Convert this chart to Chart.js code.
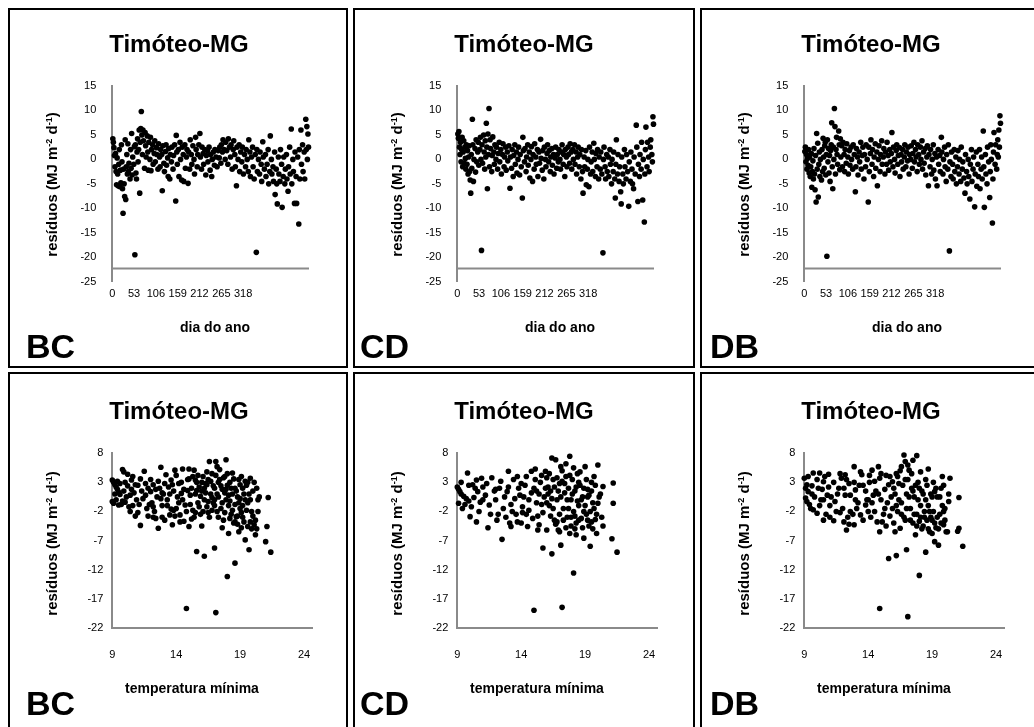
<!DOCTYPE html>
<html>
<head>
<meta charset="utf-8">
<script src="https://cdn.jsdelivr.net/npm/chart.js@4.4.1/dist/chart.umd.min.js"></script>
<style>
  body { margin: 0; width: 1034px; height: 727px; overflow: hidden; background: #fff; position: relative;
         font-family: "Liberation Sans", Arial, sans-serif; }
  .painel { position: absolute; border: 2px solid #000; box-sizing: border-box; }
  canvas { position: absolute; }
  .txt { position: absolute; font-weight: bold; color: #000; white-space: nowrap; }
  .titulo { font-size: 24px; line-height: 24px; width: 300px; text-align: center; }
  .ytit { font-size: 15px; line-height: 15px; width: 220px; text-align: center; transform: rotate(-90deg); }
  .xtit { font-size: 14px; line-height: 14px; width: 200px; text-align: center; }
  .sigla { font-size: 34px; line-height: 34px; }
  sup { font-size: 9px; line-height: 0; vertical-align: 5px; }
</style>
</head>
<body>
<div class="painel" style="left:8px;top:8px;width:340px;height:360px"></div>
<div class="painel" style="left:353px;top:8px;width:342px;height:360px"></div>
<div class="painel" style="left:700px;top:8px;width:342px;height:360px"></div>
<div class="painel" style="left:8px;top:372px;width:340px;height:360px"></div>
<div class="painel" style="left:353px;top:372px;width:342px;height:360px"></div>
<div class="painel" style="left:700px;top:372px;width:342px;height:360px"></div>

<canvas id="c1" width="336" height="356" style="left:10px;top:10px"></canvas>
<canvas id="c2" width="336" height="356" style="left:355px;top:10px"></canvas>
<canvas id="c3" width="336" height="356" style="left:702px;top:10px"></canvas>
<canvas id="c4" width="336" height="353" style="left:10px;top:374px"></canvas>
<canvas id="c5" width="336" height="353" style="left:355px;top:374px"></canvas>
<canvas id="c6" width="336" height="353" style="left:702px;top:374px"></canvas>

<div class="txt titulo" style="left:29px;top:32px">Timóteo-MG</div>
<div class="txt titulo" style="left:374px;top:32px">Timóteo-MG</div>
<div class="txt titulo" style="left:721px;top:32px">Timóteo-MG</div>
<div class="txt titulo" style="left:29px;top:399px">Timóteo-MG</div>
<div class="txt titulo" style="left:374px;top:399px">Timóteo-MG</div>
<div class="txt titulo" style="left:721px;top:399px">Timóteo-MG</div>

<div class="txt ytit" style="left:-59px;top:177px">resíduos (MJ m<sup>-2</sup> d<sup>-1</sup>)</div>
<div class="txt ytit" style="left:286px;top:177px">resíduos (MJ m<sup>-2</sup> d<sup>-1</sup>)</div>
<div class="txt ytit" style="left:633px;top:177px">resíduos (MJ m<sup>-2</sup> d<sup>-1</sup>)</div>
<div class="txt ytit" style="left:-59px;top:536px">resíduos (MJ m<sup>-2</sup> d<sup>-1</sup>)</div>
<div class="txt ytit" style="left:286px;top:536px">resíduos (MJ m<sup>-2</sup> d<sup>-1</sup>)</div>
<div class="txt ytit" style="left:633px;top:536px">resíduos (MJ m<sup>-2</sup> d<sup>-1</sup>)</div>

<div class="txt xtit" style="left:115px;top:320px">dia do ano</div>
<div class="txt xtit" style="left:460px;top:320px">dia do ano</div>
<div class="txt xtit" style="left:807px;top:320px">dia do ano</div>
<div class="txt xtit" style="left:92px;top:681px">temperatura mínima</div>
<div class="txt xtit" style="left:437px;top:681px">temperatura mínima</div>
<div class="txt xtit" style="left:784px;top:681px">temperatura mínima</div>

<div class="txt sigla" style="left:26px;top:329px">BC</div>
<div class="txt sigla" style="left:360px;top:329px">CD</div>
<div class="txt sigla" style="left:710px;top:329px">DB</div>
<div class="txt sigla" style="left:26px;top:686px">BC</div>
<div class="txt sigla" style="left:360px;top:686px">CD</div>
<div class="txt sigla" style="left:710px;top:686px">DB</div>

<script>
// rotulos dos eixos
const diaTicks = [0, 53, 106, 159, 212, 265, 318];
const residuoTicksDia = [15, 10, 5, 0, -5, -10, -15, -20, -25];
const tminTicks = [9, 14, 19, 24];
const residuoTicksTmin = [8, 3, -2, -7, -12, -17, -22];

// residuos x dia do ano
const diaBC = [[1,4.2],[2,3.5],[3,2.4],[4,0.8],[5,-1.5],[6,1.2],[7,-2.5],[8,-5.2],[9,0.3],[10,-3.0],
  [11,-5.4],[12,-1.0],[13,2.0],[14,-5.6],[15,-2.2],[16,-4.8],[17,3.0],[18,-0.5],[19,-6.0],[20,-11.0],
  [21,-2.0],[22,-5.0],[23,-7.6],[24,4.0],[25,-8.2],[26,-1.5],[27,1.0],[28,-3.0],[29,3.2],[30,-2.5],
  [31,-0.8],[33,-4.0],[34,2.0],[35,-1.8],[36,5.3],[37,-3.2],[38,0.5],[40,-1.0],[41,2.6],[42,-19.5],
  [43,3.0],[44,-2.8],[45,-4.0],[46,1.5],[47,4.2],[48,-0.5],[49,2.0],[50,6.0],[51,-6.9],[52,3.5],
  [53,6.3],[54,9.8],[55,5.0],[56,1.0],[57,6.0],[58,3.8],[60,-1.8],[61,5.5],[62,2.8],[63,0.5],
  [65,4.8],[66,1.5],[67,-2.2],[68,3.5],[70,0.0],[71,4.5],[72,-2.3],[73,2.0],[75,3.0],[76,-1.0],
  [78,1.2],[79,3.8],[80,-0.5],[82,2.4],[83,1.0],[85,-2.0],[86,3.2],[88,0.5],[89,-1.5],[90,2.0],
  [92,1.0],[93,-6.4],[94,2.8],[96,-0.8],[97,-2.5],[99,1.6],[100,3.0],[101,-1.2],[103,0.3],[104,-3.5],
  [105,2.2],[107,-4.0],[108,1.0],[110,-0.5],[111,2.5],[113,-2.0],[114,0.8],[116,3.0],[118,-8.5],[119,4.9],
  [120,1.5],[121,-1.0],[123,2.0],[124,-3.5],[126,3.5],[127,0.0],[129,-4.2],[130,2.5],[132,1.0],[133,-4.5],
  [135,3.0],[136,-1.8],[138,0.5],[139,2.0],[141,-4.9],[142,1.5],[144,-2.0],[145,4.0],[147,1.0],[148,-1.0],
  [150,2.8],[152,0.0],[153,-3.0],[155,4.5],[156,2.0],[158,-1.5],[159,1.0],[161,3.0],[163,5.3],[164,0.5],
  [166,-2.0],[167,2.5],[169,1.2],[170,-1.0],[172,2.0],[174,-3.2],[175,0.8],[177,1.8],[178,-0.5],[180,2.5],
  [182,-2.2],[183,1.0],[185,-3.5],[186,0.0],[188,1.5],[190,-1.2],[191,2.0],[193,0.5],[195,-1.5],[197,1.8],
  [199,0.3],[200,2.5],[202,-0.8],[203,3.0],[205,1.5],[206,4.0],[208,2.0],[210,0.0],[211,3.5],[213,1.8],
  [215,-1.0],[216,4.2],[218,2.5],[220,0.5],[221,3.0],[223,-2.0],[225,2.0],[226,3.8],[228,1.0],[229,-1.5],
  [231,-5.4],[232,2.5],[234,0.0],[236,3.0],[237,-2.5],[239,1.5],[241,-0.5],[242,2.5],[244,-3.0],[246,1.0],
  [248,-1.5],[249,2.0],[251,0.0],[253,-2.5],[254,4.0],[256,1.5],[257,-3.5],[259,0.5],[261,2.5],[262,-1.5],
  [264,-4.0],[266,1.0],[268,-19.0],[269,2.0],[270,-2.5],[272,0.0],[274,-3.0],[275,1.5],[277,-1.0],[278,-4.5],
  [280,3.6],[281,0.5],[283,-2.0],[285,1.0],[286,-3.5],[288,-1.0],[290,2.0],[291,-5.0],[293,-2.5],[294,4.8],
  [296,0.0],[297,-3.0],[299,-1.5],[300,-4.5],[302,1.5],[303,-7.2],[305,-2.0],[306,-5.0],[307,-9.1],[309,0.5],
  [310,-3.0],[312,-4.5],[313,2.0],[315,-1.0],[316,-9.8],[318,-3.5],[319,0.5],[321,-5.0],[322,-2.0],[324,1.0],
  [325,-4.0],[327,-6.5],[328,-1.5],[330,2.5],[331,-3.0],[333,6.2],[334,-5.0],[336,0.0],[337,-2.5],[339,-9.0],
  [340,1.5],[342,-3.5],[343,-9.0],[345,0.5],[347,-13.2],[348,2.0],[349,-4.0],[351,6.0],[352,-1.0],[354,3.0],
  [355,-2.5],[357,1.5],[358,-4.0],[360,8.2],[361,2.0],[362,6.7],[363,0.0],[364,5.2],[365,2.5]];

const diaCD = [[1,5.2],[2,4.3],[3,5.7],[4,2.5],[5,1.0],[6,3.5],[7,-0.5],[8,2.0],[9,4.5],[10,-1.5],
  [11,1.5],[12,3.8],[13,-0.8],[14,2.5],[15,0.2],[16,-2.0],[17,3.0],[18,-1.0],[19,1.8],[20,-3.0],
  [21,0.5],[22,2.8],[23,-2.5],[24,-4.2],[25,-6.9],[26,1.0],[27,-1.8],[28,8.2],[29,3.0],[30,-4.5],
  [31,0.0],[33,2.2],[34,-2.6],[35,4.0],[36,-0.5],[38,1.5],[39,3.5],[40,-1.2],[42,2.0],[43,4.5],
  [44,0.0],[45,-18.6],[46,3.0],[47,-0.8],[49,5.0],[50,1.5],[51,-2.0],[52,3.8],[53,0.5],[54,7.4],
  [55,2.5],[56,-6.0],[57,5.2],[58,1.0],[59,10.4],[60,-1.5],[61,4.0],[62,2.2],[64,-2.5],[65,0.8],
  [66,4.6],[68,1.5],[69,-1.0],[70,3.0],[72,0.0],[73,2.5],[75,-2.0],[76,1.2],[78,3.5],[79,-0.5],
  [81,2.0],[82,-3.0],[84,1.0],[85,3.2],[87,-1.5],[88,0.5],[90,2.5],[91,-2.2],[93,1.5],[94,-0.3],
  [96,2.8],[98,-5.9],[99,0.5],[101,-1.8],[102,2.0],[104,-3.5],[105,0.8],[107,3.0],[108,-1.0],[110,1.5],
  [111,-2.8],[113,0.0],[114,2.5],[116,-3.2],[117,1.0],[119,-1.5],[121,-7.9],[122,4.5],[123,1.8],[125,-0.5],
  [126,2.2],[128,-2.5],[129,0.5],[131,3.0],[132,-1.2],[134,1.5],[135,-3.8],[137,0.0],[138,2.6],[140,-4.5],
  [141,1.0],[143,-2.0],[144,3.2],[146,0.5],[147,-1.0],[149,2.0],[150,-3.5],[152,1.5],[153,-0.8],[155,4.1],
  [156,0.2],[158,-2.2],[159,1.8],[161,-4.0],[162,2.5],[164,0.0],[165,-1.5],[167,1.2],[168,3.0],[170,-0.5],
  [171,1.8],[173,-2.5],[174,0.5],[176,2.2],[177,-1.2],[179,1.0],[180,-3.0],[182,0.3],[183,2.5],[185,-1.8],
  [186,1.0],[188,-0.5],[189,2.0],[191,0.0],[192,-2.0],[194,1.5],[195,3.0],[197,-1.0],[198,1.0],[200,-3.5],
  [201,2.0],[203,0.5],[204,-1.5],[206,2.5],[207,1.0],[209,-0.8],[210,3.2],[212,1.5],[213,-2.0],[215,2.0],
  [216,0.0],[218,3.0],[219,-1.0],[221,1.5],[222,-3.0],[224,0.5],[225,2.5],[227,-1.5],[228,1.0],[230,-4.0],
  [231,2.0],[233,-2.5],[234,-6.9],[236,0.5],[237,-1.5],[239,1.8],[240,-5.2],[242,-2.0],[243,0.0],[245,-5.6],
  [246,2.5],[248,-3.0],[249,-0.5],[251,1.5],[252,-2.5],[254,3.3],[255,0.0],[257,-3.5],[258,1.2],[260,-1.5],
  [261,2.0],[263,-4.0],[264,0.5],[266,-2.0],[267,1.5],[269,-3.0],[271,-19.1],[272,0.0],[273,2.5],[275,-1.5],
  [276,-4.0],[278,1.0],[279,-2.5],[281,0.5],[282,-3.5],[284,2.0],[285,-1.0],[287,-5.0],[288,0.0],[290,-2.5],
  [291,1.5],[293,-4.0],[294,-7.9],[295,-1.0],[296,4.0],[298,-3.0],[299,1.0],[301,-4.5],[302,-1.5],[304,-6.6],
  [305,-9.1],[306,0.5],[308,-3.0],[309,-5.0],[311,2.0],[312,-1.5],[314,-4.0],[315,1.0],[317,-2.5],[319,-9.6],
  [320,-0.5],[322,-4.5],[323,1.5],[325,-2.0],[326,-5.0],[328,-6.0],[329,0.5],[331,-3.0],[333,7.0],[334,2.5],
  [336,-8.6],[337,-1.0],[339,-3.5],[340,1.0],[342,-2.0],[343,3.5],[345,-8.3],[346,0.0],[348,-12.8],[349,-3.0],
  [350,2.0],[351,6.6],[353,-1.5],[354,3.5],[356,0.5],[357,-2.5],[359,2.5],[360,4.0],[362,1.0],[363,-0.5],
  [364,8.7],[365,7.2]];

const diaDB = [[1,1.6],[2,2.5],[3,-0.5],[4,1.0],[5,-2.0],[6,0.2],[7,-1.2],[8,2.0],[9,-2.8],[10,0.5],
  [11,-3.5],[12,-1.5],[13,1.2],[14,-5.7],[15,-2.5],[16,-0.3],[17,-4.0],[18,2.2],[19,-3.0],[20,-6.2],
  [21,0.8],[22,-8.7],[23,5.3],[24,-2.0],[25,3.3],[26,-7.7],[27,-1.0],[28,1.5],[29,-3.5],[30,0.0],
  [32,-4.2],[33,2.0],[34,-2.5],[35,4.3],[36,0.5],[37,-1.8],[38,2.8],[39,3.5],[40,-3.2],[41,1.0],
  [42,-19.8],[43,4.0],[44,-0.5],[45,2.2],[46,-2.8],[47,0.8],[48,-4.5],[49,1.8],[50,3.0],[51,7.5],
  [52,-1.5],[53,-6.0],[54,2.5],[55,0.0],[56,10.4],[57,6.7],[58,-3.0],[59,2.0],[60,4.5],[61,1.0],
  [62,-1.0],[64,5.8],[65,3.0],[66,-2.1],[67,4.2],[68,0.5],[70,2.8],[71,-1.5],[72,3.5],[74,1.0],
  [75,-2.5],[76,2.0],[78,-0.8],[79,3.2],[81,0.5],[82,-3.0],[84,1.8],[85,-1.2],[87,2.5],[88,0.0],
  [90,-2.0],[91,3.0],[93,1.0],[95,-6.6],[96,-1.5],[97,2.2],[99,0.5],[100,-3.2],[102,1.5],[103,-0.5],
  [105,3.5],[106,-2.0],[108,0.8],[109,2.5],[111,-4.0],[112,1.0],[114,-1.5],[115,3.0],[117,0.0],[119,-8.7],
  [120,2.5],[121,-2.5],[123,1.2],[124,4.0],[126,-1.0],[127,2.0],[129,-3.5],[130,0.5],[132,3.2],[133,-1.8],
  [135,1.5],[136,-5.4],[138,0.0],[139,2.8],[141,-2.5],[142,1.0],[144,3.8],[145,-1.0],[147,0.5],[148,2.2],
  [150,-3.0],[151,1.5],[153,-1.0],[154,3.5],[156,0.8],[157,-2.2],[159,2.0],[160,-0.5],[162,1.2],[163,5.5],
  [165,-1.5],[166,2.5],[168,0.0],[169,-2.8],[171,1.8],[172,3.0],[174,-1.0],[175,0.8],[177,2.4],[178,-3.5],
  [180,1.0],[181,-0.5],[183,2.0],[184,-2.0],[186,0.5],[187,3.0],[189,-1.5],[190,1.5],[192,-0.3],[193,2.5],
  [195,-3.0],[196,1.0],[198,0.0],[199,2.8],[201,-1.8],[202,1.2],[204,3.5],[205,-0.5],[207,2.0],[208,0.5],
  [210,-2.5],[211,3.0],[213,1.0],[214,-1.0],[216,2.5],[217,0.0],[219,3.8],[220,-2.0],[222,1.5],[223,-0.8],
  [225,2.2],[226,-3.2],[228,0.5],[229,2.8],[231,-5.4],[232,1.0],[234,-1.5],[235,2.0],[237,-3.0],[238,0.0],
  [240,3.0],[241,-2.2],[243,1.2],[244,-4.0],[246,0.5],[247,-5.4],[249,2.0],[250,-1.0],[252,0.8],[253,-2.5],
  [255,4.5],[256,1.5],[258,-3.0],[259,0.0],[261,2.5],[262,-1.5],[264,-4.5],[265,1.0],[267,-2.0],[268,3.0],
  [270,-18.7],[271,-0.5],[273,-3.5],[274,1.5],[276,-1.0],[277,-4.0],[279,2.0],[280,-2.5],[282,0.5],[283,-5.0],
  [285,-1.5],[286,1.8],[288,-3.0],[289,0.0],[291,-4.5],[292,2.5],[294,-2.0],[295,-0.5],[297,-3.8],[299,-6.9],
  [300,1.0],[302,-2.5],[303,-5.0],[305,0.0],[306,-3.5],[308,-8.1],[309,-1.0],[311,2.0],[312,-4.5],[314,-2.0],
  [315,0.5],[317,-9.7],[318,-3.0],[320,1.5],[321,-5.5],[323,-1.0],[324,-3.5],[326,2.0],[327,-6.0],[329,-2.0],
  [330,0.5],[331,-4.0],[333,5.8],[334,-1.5],[335,-9.8],[337,1.0],[338,-3.0],[340,-5.0],[341,2.5],[343,-0.5],
  [345,-7.8],[346,-2.5],[347,3.0],[348,0.0],[350,-13.0],[351,-4.0],[352,1.5],[353,5.5],[355,-1.0],[356,3.0],
  [358,-2.0],[359,1.0],[360,4.0],[361,0.5],[362,6.0],[363,2.5],[364,8.9],[365,7.4]];

// residuos x temperatura minima
const tminBC = [[9.0,3.4],[9.1,3.0],[9.2,2.6],[9.3,2.2],[9.4,1.8],[9.5,1.3],[9.6,0.9],[9.1,-0.6],[9.3,0.0],[9.0,-0.3],
  [9.5,-0.9],[9.8,-0.2],[9.8,5.2],[9.9,4.8],[10.0,3.0],[10.1,0.5],[10.2,2.4],[10.3,-1.2],[10.4,-2.0],[10.5,3.4],
  [10.6,4.0],[10.7,1.2],[10.8,-2.8],[10.9,0.0],[11.0,2.5],[11.1,-0.8],[11.2,-4.4],[11.3,1.5],[11.5,4.9],[11.6,0.8],
  [11.7,-1.5],[11.8,2.0],[12.0,1.4],[12.1,-0.5],[12.2,2.6],[12.3,-2.0],[12.4,-3.2],[12.5,0.5],[12.6,-4.9],[12.7,2.0],
  [12.8,5.6],[12.9,-1.0],[13.0,1.0],[13.1,-3.5],[13.2,4.3],[13.3,0.0],[13.4,2.2],[13.5,-2.6],[13.6,3.4],[13.7,-4.3],
  [13.8,1.5],[13.9,5.1],[14.0,-1.5],[14.1,0.5],[14.2,2.8],[14.3,-2.6],[14.4,1.1],[14.5,5.3],[14.6,-3.7],[14.7,-0.9],
  [14.8,-18.7],[14.9,3.5],[15.0,5.3],[15.0,-4.6],[15.1,0.8],[15.2,2.0],[15.3,-1.8],[15.4,5.1],[15.5,1.0],[15.6,-8.9],
  [15.6,3.0],[15.7,-0.5],[15.8,2.2],[15.9,-2.5],[16.0,1.5],[16.1,4.0],[16.2,-9.7],[16.2,0.0],[16.3,2.8],[16.4,-1.2],
  [16.5,3.5],[16.6,6.6],[16.6,-3.0],[16.7,1.0],[16.8,4.5],[16.9,-0.5],[17.0,-8.3],[17.0,2.0],[17.1,-19.4],[17.1,6.6],
  [17.2,5.7],[17.2,-2.0],[17.3,0.5],[17.4,3.5],[17.5,-1.5],[17.6,1.8],[17.7,-3.5],[17.8,4.0],[17.9,6.9],[17.9,0.0],
  [18.0,-13.2],[18.0,2.5],[18.1,-5.8],[18.1,-1.0],[18.2,3.0],[18.3,-2.5],[18.4,1.0],[18.5,-4.0],[18.6,-10.9],[18.6,2.0],
  [18.7,-2.9],[18.8,0.5],[18.9,-5.5],[18.9,3.5],[19.0,-1.5],[19.1,4.0],[19.2,-3.0],[19.3,1.0],[19.4,-6.9],[19.5,2.5],
  [19.6,-0.5],[19.7,-8.6],[19.8,3.7],[19.9,-2.0],[20.0,1.5],[20.1,-4.3],[20.2,-6.0],[20.3,2.0],[20.4,-2.0],[20.5,0.5],
  [21.2,0.4],[21.1,-4.6],[21.0,-7.2],[21.4,-9.0],[15.2,-3.3],[15.7,4.2],[16.0,-4.5],[16.4,2.6],[16.8,-1.8],[17.3,3.0],
  [17.6,-4.8],[17.8,1.2],[18.2,-3.2],[18.4,4.6],[18.8,-4.2],[19.0,2.6],[19.2,-1.0],[19.4,0.0],[19.6,3.0],[19.8,-3.8],
  [16.5,-0.3],[15.5,-2.2],[14.5,0.0],[13.8,-1.8],[12.8,0.2],[11.9,-0.8],[10.5,1.8],
  [9.2,1.0],[9.4,3.2],[9.6,2.8],[9.7,-0.8],[9.9,1.5],[10.0,-0.4],[10.2,4.4],[10.4,0.8],[10.6,-1.0],[10.8,2.6],
  [11.0,-2.2],[11.2,3.6],[11.4,0.2],[11.6,2.8],[11.8,-2.8],[12.0,3.5],[12.2,-1.2],[12.4,1.8],[12.6,3.2],[12.9,-3.0],
  [13.1,2.8],[13.3,-1.0],[13.5,1.0],[13.7,2.6],[13.9,-2.8],[14.0,4.2],[14.2,-0.5],[14.4,3.0],[14.6,1.8],[14.8,-2.0],
  [15.0,3.6],[15.1,-0.8],[15.3,4.0],[15.4,-3.0],[15.6,1.6],[15.8,-1.2],[15.9,0.6],[16.0,3.0],[16.1,-2.0],[16.3,1.2],
  [16.4,4.8],[16.5,-2.2],[16.7,3.2],[16.8,0.4],[16.9,2.4],[17.0,-1.0],[17.1,4.2],[17.2,1.0],[17.3,-3.0],[17.4,5.2],
  [17.5,2.4],[17.6,-0.5],[17.7,3.8],[17.8,-2.2],[17.9,1.8],[18.0,4.5],[18.1,0.8],[18.2,-0.2],[18.3,2.0],[18.4,-1.8],
  [18.5,3.6],[18.6,-0.8],[18.7,1.5],[18.8,-2.8],[18.9,-0.5],[19.0,0.2],[19.1,-2.2],[19.2,2.0],[19.3,-3.8],[19.4,3.2],
  [19.5,-1.8],[19.6,-4.6],[19.7,1.0],[19.8,0.0],[19.9,-5.0],[20.0,-2.8],[20.1,3.0],[20.2,-3.5],[20.3,-5.0],[20.4,0.0],
  [17.0,0.0],[16.2,2.0],[15.5,3.4],[14.9,1.6],[14.3,-3.8],[13.6,-1.6],[12.9,1.2],[12.2,-3.0],[18.6,-3.8],[19.1,-4.8]];

const tminCD = [[9.0,2.2],[9.1,1.8],[9.2,1.4],[9.3,1.0],[9.5,0.6],[9.7,0.2],[9.9,-0.2],[9.1,-0.6],[9.4,-1.5],[9.8,4.6],
  [10.2,2.6],[10.5,3.4],[10.9,3.7],[10.6,1.4],[11.2,0.8],[11.5,-0.9],[10.0,-2.9],[10.5,-3.8],[11.4,-4.8],[12.5,-6.8],
  [11.7,3.8],[12.0,0.0],[12.3,2.0],[12.6,-1.5],[12.9,1.4],[13.0,4.9],[13.3,-2.0],[13.7,4.0],[13.7,-3.8],[13.2,-4.6],
  [13.9,0.8],[14.1,-1.2],[14.3,2.5],[14.5,-4.6],[14.6,0.0],[14.8,4.9],[15.0,-19.0],[15.1,5.3],[15.2,1.5],[15.3,-2.8],
  [15.4,-4.3],[15.5,3.0],[15.7,-8.3],[15.8,0.5],[15.9,4.9],[16.0,-5.2],[16.1,2.2],[16.2,-1.0],[16.4,-9.3],[16.4,7.2],
  [16.5,3.5],[16.6,-3.5],[16.7,6.9],[16.8,0.0],[16.9,-5.2],[17.0,2.8],[17.1,-7.8],[17.1,5.7],[17.2,-18.5],[17.3,-1.5],
  [17.4,1.2],[17.5,4.0],[17.6,-3.0],[17.7,2.0],[17.8,7.5],[17.8,-5.8],[17.9,0.0],[18.0,3.5],[18.1,-12.6],[18.1,-2.0],
  [18.2,1.5],[18.3,-4.0],[18.4,4.5],[18.5,-1.0],[18.6,2.5],[18.7,-3.2],[18.8,0.5],[18.9,-6.6],[19.0,5.7],[19.1,-2.5],
  [19.2,1.8],[19.3,-4.5],[19.4,-8.0],[19.5,3.0],[19.6,-0.5],[19.7,4.0],[19.8,-3.4],[19.9,-5.8],[20.0,6.0],[20.0,-0.6],
  [20.2,1.0],[20.4,2.3],[21.2,2.9],[21.2,-0.6],[21.1,-6.7],[21.5,-9.0],[14.0,2.8],[14.4,-2.5],[15.0,2.0],[15.6,-0.8],
  [16.0,3.8],[16.3,-2.8],[16.8,-3.8],[17.2,3.2],[17.5,-4.8],[17.9,-3.0],[18.2,-5.0],[18.5,3.0],[18.9,-2.0],[19.2,0.5],
  [19.5,-3.8],[16.1,1.0],[13.5,0.2],[12.2,-2.5],[11.0,2.2],[10.3,0.4],
  [9.3,3.0],[9.6,-0.8],[9.9,2.5],[10.1,-1.2],[10.4,2.0],[10.7,-2.0],[11.0,0.0],[11.3,2.8],[11.6,-2.5],[11.9,1.5],
  [12.1,-3.5],[12.4,3.2],[12.7,0.5],[12.8,-3.0],[13.0,2.2],[13.2,-0.8],[13.4,3.5],[13.6,-2.5],[13.8,2.0],[14.0,-4.0],
  [14.2,0.5],[14.4,4.0],[14.6,-1.8],[14.8,1.2],[14.9,-3.2],[15.1,3.5],[15.2,-0.5],[15.4,1.0],[15.6,4.2],[15.7,-2.2],
  [15.9,2.0],[16.0,-0.5],[16.2,4.5],[16.3,1.5],[16.5,-1.5],[16.6,2.2],[16.7,-4.2],[16.8,3.8],[16.9,1.5],[17.0,-2.5],
  [17.1,0.5],[17.2,5.0],[17.3,-3.5],[17.4,2.8],[17.5,6.2],[17.6,0.0],[17.7,-1.5],[17.8,4.2],[17.9,-4.5],[18.0,1.0],
  [18.1,5.5],[18.2,-2.8],[18.3,2.2],[18.4,-0.2],[18.5,-3.5],[18.6,4.8],[18.7,0.0],[18.8,-4.8],[18.9,2.0],[19.0,-1.0],
  [19.1,3.5],[19.2,-3.5],[19.3,0.8],[19.4,-2.0],[19.5,1.5],[19.6,-5.0],[19.7,-1.5],[19.8,2.5],[19.9,-2.5],[20.1,0.5],
  [20.3,-3.0],[20.4,-4.5],[16.4,0.2],[17.0,-5.5],[18.3,-6.0],[15.3,-5.2],[14.1,-2.2],[13.1,-4.0],[12.0,1.8],[10.8,-0.4]];

const tminDB = [[9.0,3.7],[9.2,2.6],[9.3,1.4],[9.1,0.3],[9.2,-0.3],[9.5,-1.5],[9.7,-1.7],[10.0,-2.3],[10.5,-3.5],[11.3,-3.6],
  [9.7,4.6],[10.2,4.6],[10.9,4.4],[10.5,3.1],[10.1,2.0],[10.8,0.8],[11.4,-0.3],[11.7,2.0],[11.9,3.7],[12.2,4.3],
  [12.9,5.7],[13.5,4.3],[12.3,-5.2],[12.9,-4.3],[12.1,-3.8],[12.6,-2.0],[13.4,-2.6],[13.8,-0.9],[12.2,0.8],[13.0,1.7],
  [14.3,5.1],[14.8,5.7],[14.9,3.7],[15.1,-3.8],[14.9,-5.5],[14.5,-2.0],[14.4,0.8],[15.6,2.6],[15.6,-10.1],[14.9,-18.7],
  [15.9,3.1],[16.8,7.7],[16.9,6.6],[16.6,5.7],[17.8,7.6],[17.2,5.1],[16.2,-9.6],[17.0,-8.6],[16.1,-5.5],[16.5,-4.9],
  [17.1,-20.1],[18.0,-13.0],[17.7,-6.0],[18.0,-3.7],[18.5,-9.0],[18.7,5.3],[19.8,4.0],[19.2,1.4],[19.9,-2.0],[19.9,-4.3],
  [19.2,-7.2],[19.5,-7.8],[19.0,-5.8],[20.3,-0.3],[20.4,3.7],[21.1,0.4],[21.1,-4.9],[21.0,-5.4],[21.4,-8.0],[13.6,2.5],
  [13.9,0.0],[14.1,3.0],[14.2,-3.0],[14.6,1.5],[15.0,0.0],[15.3,-1.5],[15.4,4.2],[15.7,-2.8],[15.8,0.5],[16.0,2.0],
  [16.2,-1.0],[16.3,4.0],[16.4,0.0],[16.6,-2.5],[16.7,2.5],[16.9,-3.5],[17.0,1.0],[17.1,3.5],[17.3,-1.5],[17.4,2.0],
  [17.5,-4.0],[17.6,0.5],[17.8,-2.5],[17.9,3.0],[18.1,-1.0],[18.2,1.5],[18.3,-4.5],[18.4,-3.0],[18.5,0.0],[18.6,2.5],
  [18.7,-5.0],[18.8,-2.0],[18.9,1.0],[19.0,-3.5],[19.1,3.0],[19.3,-4.8],[19.4,0.5],[19.6,-2.5],[19.7,2.0],[20.0,-1.5],
  [20.1,-5.5],[11.0,-1.0],[12.5,2.8],[13.2,-0.5],[10.3,0.0],[9.6,1.0],[11.8,-2.2],
  [9.1,2.0],[9.3,4.0],[9.4,-0.8],[9.6,2.4],[9.8,0.5],[10.0,3.5],[10.2,-1.0],[10.4,1.8],[10.6,4.0],[10.7,-2.5],
  [10.9,2.2],[11.1,0.5],[11.3,3.0],[11.5,-2.0],[11.6,1.0],[11.8,4.5],[12.0,-1.5],[12.1,2.0],[12.3,3.5],[12.4,-3.0],
  [12.6,0.8],[12.8,-2.5],[12.9,3.0],[13.1,-1.5],[13.3,2.5],[13.4,4.8],[13.6,-3.5],[13.8,1.5],[14.0,-2.0],[14.1,4.2],
  [14.3,-0.5],[14.5,3.2],[14.7,-3.8],[14.8,1.0],[15.0,4.5],[15.2,-2.5],[15.3,1.8],[15.5,-0.5],[15.7,4.0],[15.9,-1.5],
  [16.0,-4.0],[16.1,1.0],[16.3,-2.0],[16.4,2.8],[16.5,5.0],[16.6,-0.5],[16.8,-3.0],[16.9,3.5],[17.0,-1.5],[17.2,0.5],
  [17.3,-3.5],[17.4,4.5],[17.5,1.5],[17.6,-2.5],[17.7,2.5],[17.8,-4.5],[17.9,0.0],[18.0,2.0],[18.1,-3.0],[18.2,-5.0],
  [18.3,1.0],[18.4,-2.0],[18.5,3.5],[18.6,-3.5],[18.7,-1.0],[18.8,-5.5],[18.9,-3.0],[19.0,0.5],[19.1,-2.0],[19.2,-4.0],
  [19.3,2.0],[19.4,-3.0],[19.5,-5.0],[19.6,0.5],[19.7,-4.0],[19.8,-1.0],[19.9,2.5],[20.0,-3.5],[20.2,-5.5],[20.3,1.0],
  [16.2,4.5],[17.1,6.0],[17.5,6.8],[18.1,4.8],[15.4,-4.5],[14.0,0.0],[12.5,-4.2],[11.0,-3.0],[13.0,0.0],[10.5,0.0]];

const corEixo = '#8a8a8a';
const eixoCruzaDia = -22.3;   // onde a linha horizontal corta o eixo y nos graficos por dia

Chart.defaults.font.family = '"Liberation Sans", Arial, sans-serif';
Chart.defaults.font.size = 11;
Chart.defaults.color = '#000';

const comuns = {
  responsive: false,
  animation: false,
  events: [],
  plugins: { legend: { display: false }, tooltip: { enabled: false } }
};

function fixarTicks(lista) {
  return axis => { axis.ticks = lista.map(v => ({ value: v })); };
}

function pontos(pares) {
  return pares.map(p => ({ x: p[0], y: p[1] }));
}

function graficoDia(id, pares) {
  new Chart(document.getElementById(id), {
    type: 'scatter',
    data: {
      datasets: [
        { data: pontos(pares), xAxisID: 'x', yAxisID: 'y', backgroundColor: '#000', borderWidth: 0, pointRadius: 2.8, clip: false },
        { type: 'line', data: [{ x: 0, y: eixoCruzaDia }, { x: 366, y: eixoCruzaDia }], xAxisID: 'x', yAxisID: 'y',
          borderColor: corEixo, borderWidth: 2, pointRadius: 0, clip: false }
      ]
    },
    options: {
      ...comuns,
      layout: { padding: { top: 76, right: 37, bottom: 0, left: 0 } },
      scales: {
        x: { type: 'linear', display: false, min: 0, max: 366 },
        xl: { type: 'linear', axis: 'x', position: 'bottom', min: 0, max: 478,
              afterBuildTicks: fixarTicks(diaTicks), afterFit: s => { s.height = 84.3; },
              grid: { display: false, drawTicks: false }, border: { display: false },
              ticks: { padding: 6, autoSkip: false, maxRotation: 0 } },
        y: { type: 'linear', min: -25, max: 15,
             afterBuildTicks: fixarTicks(residuoTicksDia), afterFit: s => { s.width = 102.3; },
             grid: { display: false, drawTicks: false }, border: { color: corEixo, width: 2 },
             ticks: { padding: 16 } }
      }
    }
  });
}

function graficoTmin(id, pares) {
  new Chart(document.getElementById(id), {
    type: 'scatter',
    data: {
      datasets: [
        { data: pontos(pares), backgroundColor: '#000', borderWidth: 0, pointRadius: 2.8, clip: false }
      ]
    },
    options: {
      ...comuns,
      layout: { padding: { top: 79.3, right: 33.7, bottom: 0, left: 0 } },
      scales: {
        x: { type: 'linear', min: 9, max: 24.65,
             afterBuildTicks: fixarTicks(tminTicks), afterFit: s => { s.height = 99.3; },
             grid: { display: false, drawTicks: false }, border: { color: corEixo, width: 2 },
             ticks: { padding: 21, autoSkip: false, maxRotation: 0 } },
        y: { type: 'linear', min: -22, max: 8,
             afterBuildTicks: fixarTicks(residuoTicksTmin), afterFit: s => { s.width = 102.3; },
             grid: { display: false, drawTicks: false }, border: { color: corEixo, width: 2 },
             ticks: { padding: 9 } }
      }
    }
  });
}

graficoDia('c1', diaBC);
graficoDia('c2', diaCD);
graficoDia('c3', diaDB);
graficoTmin('c4', tminBC);
graficoTmin('c5', tminCD);
graficoTmin('c6', tminDB);
</script>
</body>
</html>
